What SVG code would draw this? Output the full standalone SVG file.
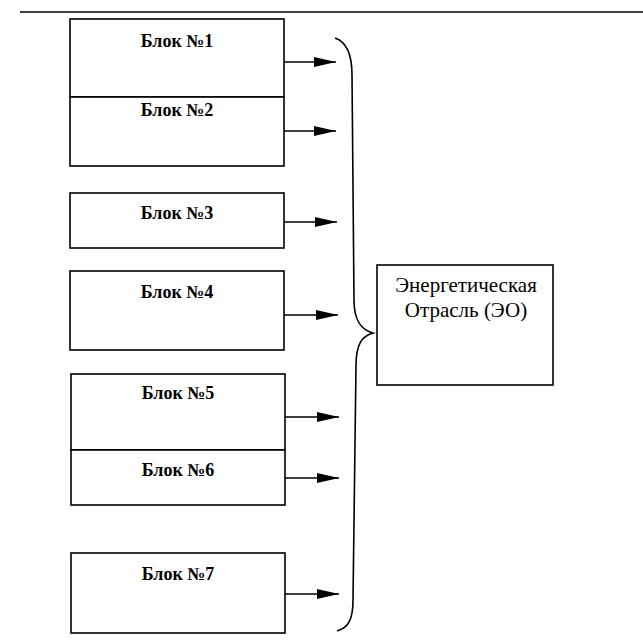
<svg xmlns="http://www.w3.org/2000/svg" width="643" height="643" viewBox="0 0 643 643">
<defs>
<style>
.box{fill:#fff;stroke:#000;stroke-width:1.6}
.lbl{font-family:"Liberation Serif","Times New Roman",serif;font-size:18px;font-weight:bold;text-anchor:middle;fill:#000}
.eo{font-family:"Liberation Serif","Times New Roman",serif;font-size:21px;text-anchor:middle;fill:#000}
.conn{stroke:#000;stroke-width:1.6;fill:none}
</style>
<marker id="ah" viewBox="0 0 22 10" refX="22" refY="5" markerWidth="22" markerHeight="10" markerUnits="userSpaceOnUse" orient="auto">
<path d="M0,0 L22,5 L0,10 Z" fill="#000"/>
</marker>
</defs>
<rect width="643" height="643" fill="#fff"/>
<line x1="20" y1="12" x2="643" y2="12" stroke="#000" stroke-width="1.6"/>
<g id="block1"><rect class="box" x="70" y="19" width="214" height="78"/><text class="lbl" x="177" y="47">Блок №1</text></g>
<g id="block2"><rect class="box" x="70" y="97" width="214" height="69"/><text class="lbl" x="177" y="116">Блок №2</text></g>
<g id="block3"><rect class="box" x="70" y="193" width="214" height="55"/><text class="lbl" x="177" y="219">Блок №3</text></g>
<g id="block4"><rect class="box" x="70" y="271" width="214" height="79"/><text class="lbl" x="177" y="298">Блок №4</text></g>
<g id="block5"><rect class="box" x="71" y="374" width="214" height="76"/><text class="lbl" x="178" y="399">Блок №5</text></g>
<g id="block6"><rect class="box" x="71" y="450" width="214" height="55"/><text class="lbl" x="178" y="476">Блок №6</text></g>
<g id="block7"><rect class="box" x="71" y="553" width="214" height="80"/><text class="lbl" x="178" y="580">Блок №7</text></g>
<g id="eo"><rect class="box" x="377" y="265" width="176" height="120"/><text class="eo" x="466" y="292">Энергетическая</text><text class="eo" x="466" y="317">Отрасль (ЭО)</text></g>
<g id="connectors">
<line class="conn" x1="284" y1="62" x2="336" y2="62" marker-end="url(#ah)"/>
<line class="conn" x1="284" y1="131" x2="336" y2="131" marker-end="url(#ah)"/>
<line class="conn" x1="284" y1="222" x2="337" y2="222" marker-end="url(#ah)"/>
<line class="conn" x1="284" y1="315" x2="338" y2="315" marker-end="url(#ah)"/>
<line class="conn" x1="285" y1="417" x2="339" y2="417" marker-end="url(#ah)"/>
<line class="conn" x1="285" y1="478" x2="339" y2="478" marker-end="url(#ah)"/>
<line class="conn" x1="285" y1="594" x2="339" y2="594" marker-end="url(#ah)"/>
<path class="conn" d="M335,38 C347,42 352,55 352,75 L354,300 C354,322 362,330 373,333 C362,336 356,344 356,366 L353,600 C353,620 348,628 337,631"/>
</g>
</svg>
